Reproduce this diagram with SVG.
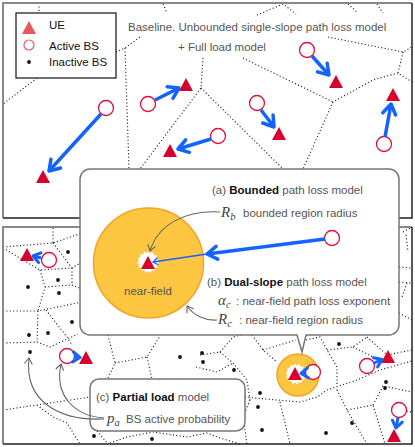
<svg xmlns="http://www.w3.org/2000/svg" width="415" height="447" viewBox="0 0 415 447">
<style>
.vor{fill:none;stroke:#222;stroke-width:1.15;stroke-dasharray:1.1 2.3}
.bs{fill:#fff;stroke:#e0103a;stroke-width:1.3}
.ue{fill:#d8002c}
.dot{fill:#111}
.blue{fill:none;stroke:#1463ff;stroke-width:3.5}
.blues{fill:none;stroke:#1463ff;stroke-width:3}
.thin{fill:none;stroke:#1463ff;stroke-width:1.3}
.gray{fill:none;stroke:#666;stroke-width:1.1}
.t{font-family:"Liberation Sans",Arial,sans-serif;font-size:11.5px;fill:#555}
.b{font-weight:bold;fill:#111}
.lg{font-family:"Liberation Sans",Arial,sans-serif;font-size:11.5px;fill:#111}
.m{font-family:"Liberation Serif","Times New Roman",serif;font-style:italic;font-size:15px;fill:#444}
.sub{font-size:10.5px}
.box{fill:#fff;stroke:#777;stroke-width:1.5}
.orange{fill:#fcc640;stroke:#f3a42a;stroke-width:1.5}
.hole{fill:#fff;stroke:#fff;stroke-width:2;stroke-dasharray:2 2}
</style>
<defs>
<path id="tri" d="M0,-7 L7,6 L-7,6 Z"/>
<marker id="ah" markerUnits="userSpaceOnUse" viewBox="-13 -9 16 18" refX="0" refY="0" markerWidth="16" markerHeight="18" orient="auto"><path d="M-10,-6.5 L0,0 L-10,6.5" fill="none" stroke="#1463ff" stroke-width="3.5" stroke-linecap="round" stroke-linejoin="round"/></marker>
<marker id="ahs" markerUnits="userSpaceOnUse" viewBox="-10 -7 12 14" refX="0" refY="0" markerWidth="12" markerHeight="14" orient="auto"><path d="M-7,-5 L0,0 L-7,5" fill="none" stroke="#1463ff" stroke-width="3" stroke-linecap="round" stroke-linejoin="round"/></marker>
<marker id="aht" markerUnits="userSpaceOnUse" viewBox="-8 -6 10 12" refX="0" refY="0" markerWidth="10" markerHeight="12" orient="auto"><path d="M-5,-3.5 L0,0 L-5,3.5" fill="none" stroke="#1463ff" stroke-width="1.3"/></marker>
<marker id="ahg" markerUnits="userSpaceOnUse" viewBox="-8 -6 10 12" refX="0" refY="0" markerWidth="10" markerHeight="12" orient="auto"><path d="M-6,-4 L0,0 L-6,4" fill="none" stroke="#666" stroke-width="1.1"/></marker>
</defs>

<g id="top-panel">
<rect x="3" y="3" width="409" height="215" fill="#fff"/>
<path class="vor" d="M39,3 L39,13 M37,78 L3,104 M116,52 L125,48 L140,37 M125,48 L129,169 M163,4 L167,13 M257,15 L283,4 L296,14 M348,4 L358,13 M377,4 L383,13 M328,37 L403,52 L412,47 M403,52 L398,73 L412,82 M398,73 L373,80 L333,102 M243,58 L333,102 M333,102 L303,169 M203,58 L201,88 L140,169 M201,88 L283,169"/>
<path d="M3,218 V3 H412" fill="none" stroke="#888" stroke-width="2"/>
<path d="M3,218 H412 V3" fill="none" stroke="#222" stroke-width="1.5"/>
</g>

<g id="title">
<text class="t" x="128" y="31" fill="#666">Baseline. Unbounded single-slope path loss model</text>
<text class="t" x="178" y="51">+ Full load model</text>
</g>

<g id="legend">
<rect x="16" y="13" width="100" height="65" fill="#fff" stroke="#111" stroke-width="1.2"/>
<use href="#tri" x="29" y="28" fill="#e8585a"/>
<circle cx="29" cy="45" r="5" fill="#fff" stroke="#ee5a5e" stroke-width="1.2"/>
<circle cx="29" cy="62" r="1.9" class="dot"/>
<text class="lg" x="49" y="29">UE</text>
<text class="lg" x="49" y="50">Active BS</text>
<text class="lg" x="49" y="66">Inactive BS</text>
</g>

<g id="top-nodes">
<g id="bs1"><circle class="bs" cx="148" cy="104" r="7.5"/></g>
<g id="ue1"><use href="#tri" class="ue" x="186" y="85"/></g>
<g id="bs2"><circle class="bs" cx="106" cy="108" r="7.5"/></g>
<g id="ue2"><use href="#tri" class="ue" x="43" y="177"/></g>
<g id="bs3"><circle class="bs" cx="257" cy="103" r="7.5"/></g>
<g id="ue3"><use href="#tri" class="ue" x="279" y="134"/></g>
<g id="bs4"><circle class="bs" cx="218" cy="136" r="7.5"/></g>
<g id="ue4"><use href="#tri" class="ue" x="170" y="151"/></g>
<g id="bs5"><circle class="bs" cx="307" cy="50" r="7.5"/></g>
<g id="ue5"><use href="#tri" class="ue" x="336" y="82"/></g>
<g id="bs6"><circle class="bs" cx="384" cy="144" r="7.5"/></g>
<g id="ue6"><use href="#tri" class="ue" x="393" y="95"/></g>
</g>

<g id="bottom-panel">
<rect x="3" y="227" width="409" height="217" fill="#fff"/>
<path class="vor" d="M3,247 L53,243 L82,233 M53,228 L53,243 M3,248 L40,270 L72,268 L82,262 M53,243 L72,268 M72,268 L72,285 L82,289 M40,270 L45,287 L38,311 M45,287 L72,285 M3,311 L38,311 L82,302 M38,311 L37,342 M46,310 L67,337 L72,345
M3,343 L37,342 L50,347 L78,334 M3,410 L37,405 L90,397 M37,405 L53,417 L67,423 L80,444 M97,431 L108,444 M110,443 L127,437 L153,432 L187,437 L207,433 L220,438 L240,444
M108,335 L115,363 L107,380 M115,363 L147,357 L160,336 M147,357 L152,379
M200,355 L220,352 L233,337 L250,333 M220,352 L233,363 M196,367 L217,372 L233,363 M233,363 L247,380 L250,400
M252,335 L263,350 L277,362 M263,350 L296,340 M306,340 L320,337 L327,350 L337,367 L337,390 M327,350 L353,347 L367,337 M353,347 L373,357 M367,337 L387,355 L412,350
M245,397 L277,400 L300,402 L317,397 L327,390 L357,380 L380,370 L412,361 M337,390 L347,410 L367,444 M347,410 L373,405 L385,444 M373,405 L383,386 L412,392 M250,400 L243,417 L247,444 M280,402 L285,423 L290,444 M400,410 L412,412
M403,232 L410,228 M406,235 L408,252 M399,267 L412,268 M399,282 L412,283 M407,283 L402,297 M399,313 L412,320"/>
<g id="inactive-bs">
<circle class="dot" cx="68" cy="252" r="1.9"/><circle class="dot" cx="58" cy="280" r="1.9"/><circle class="dot" cx="28" cy="287" r="1.9"/><circle class="dot" cx="59" cy="293" r="1.9"/><circle class="dot" cx="72" cy="322" r="1.9"/><circle class="dot" cx="29" cy="335" r="1.9"/><circle class="dot" cx="48" cy="333" r="1.9"/><circle class="dot" cx="30" cy="352" r="1.9"/><circle class="dot" cx="180" cy="357" r="1.9"/><circle class="dot" cx="202" cy="353" r="1.9"/><circle class="dot" cx="203" cy="362" r="1.9"/><circle class="dot" cx="234" cy="370" r="1.9"/><circle class="dot" cx="260" cy="393" r="1.9"/><circle class="dot" cx="258" cy="407" r="1.9"/><circle class="dot" cx="262" cy="430" r="1.9"/><circle class="dot" cx="339" cy="344" r="1.9"/><circle class="dot" cx="326" cy="433" r="1.9"/><circle class="dot" cx="352" cy="423" r="1.9"/><circle class="dot" cx="386" cy="382" r="1.9"/><circle class="dot" cx="385" cy="388" r="1.9"/><circle class="dot" cx="94" cy="436" r="1.9"/><circle class="dot" cx="152" cy="439" r="1.9"/>
</g>
<path d="M3,444 V227 H412" fill="none" stroke="#888" stroke-width="2"/>
<path d="M3,444 H412 V227" fill="none" stroke="#222" stroke-width="1.5"/>
</g>

<g id="bottom-nodes">
<g id="bs7"><circle class="bs" cx="49" cy="260" r="7.5"/></g>
<g id="ue7"><use href="#tri" class="ue" x="27" y="255"/></g>
<g id="bs8"><circle class="bs" cx="67" cy="356" r="7.5"/></g>
<g id="ue8"><use href="#tri" class="ue" x="86" y="358"/></g>
<g id="nearfield-small">
<circle class="orange" cx="298" cy="375" r="21"/>
<circle class="hole" cx="296" cy="374" r="9"/>
</g>
<g id="ue9"><use href="#tri" class="ue" x="295" y="374"/></g>
<g id="bs9"><circle class="bs" cx="313" cy="372" r="7.5"/></g>
<g id="bs10"><circle class="bs" cx="367" cy="366" r="7.5"/></g>
<g id="ue10"><use href="#tri" class="ue" x="388" y="357"/></g>
<g id="bs11"><circle class="bs" cx="399" cy="410" r="7.5"/></g>
<g id="ue11"><use href="#tri" class="ue" x="394" y="436"/></g>
</g>

<g id="callout">
<path class="box" d="M90,169 H389 A10,10 0 0 1 399,179 V325 A10,10 0 0 1 389,335 H306 L302,352 L297,335 H90 A10,10 0 0 1 80,325 V179 A10,10 0 0 1 90,169 Z"/>
<circle class="orange" cx="148.5" cy="263" r="55"/>
<circle class="hole" cx="148" cy="262" r="9.5"/>
<text class="t" x="148" y="295" text-anchor="middle" fill="#333">near-field</text>
<text class="t" x="212" y="194">(a) <tspan class="b">Bounded</tspan> path loss model</text>
<text class="m" x="221" y="217">R<tspan class="sub" dy="3">b</tspan></text>
<text class="t" x="243" y="217">bounded region radius</text>
<text class="t" x="207" y="286">(b) <tspan class="b">Dual-slope</tspan> path loss model</text>
<text class="m" x="218" y="305">α<tspan class="sub" dy="3">c</tspan></text>
<text class="t" x="236" y="305">: near-field path loss exponent</text>
<text class="m" x="218" y="324">R<tspan class="sub" dy="3">c</tspan></text>
<text class="t" x="239" y="324">: near-field region radius</text>
</g>
<g id="ue-center"><use href="#tri" class="ue" x="148" y="263"/></g>
<g id="bs-callout"><circle class="bs" cx="332" cy="238" r="7.5"/></g>

<g id="partial-load">
<rect class="box" x="90" y="379" width="155" height="52" rx="9"/>
<text class="t" x="96" y="401">(c) <tspan class="b">Partial load</tspan> model</text>
<text class="m" x="107" y="423">p<tspan class="sub" dy="3">a</tspan></text>
<text class="t" x="126" y="423">BS active probability</text>
</g>

<g id="connectors">
<path class="blue" marker-end="url(#ah)" d="M155,100 L179,88"/>
<path class="blue" marker-end="url(#ah)" d="M101,114 L49,171"/>
<path class="blue" marker-end="url(#ah)" d="M261,110 L274,127"/>
<path class="blue" marker-end="url(#ah)" d="M211,139 L178,149"/>
<path class="blue" marker-end="url(#ah)" d="M312,56 L329,75"/>
<path class="blue" marker-end="url(#ah)" d="M385,137 L391,104"/>
<path class="blue" marker-end="url(#ah)" d="M325,239 L207,254"/>
<path class="thin" marker-end="url(#aht)" d="M207,254 L153,262"/>
<path class="blues" marker-end="url(#ahs)" d="M41,258 L33,256"/>
<path class="blues" marker-end="url(#ahs)" d="M74,357 L80,357.5"/>
<path class="blues" marker-end="url(#ahs)" d="M306,373 L301,373.5"/>
<path class="blues" marker-end="url(#ahs)" d="M374,363 L382,359.5"/>
<path class="blues" marker-end="url(#ahs)" d="M398,417.5 L396,428"/>
<path class="gray" marker-end="url(#ahg)" d="M220,212 C186,210 158,224 150,251"/>
<path class="gray" marker-end="url(#ahg)" d="M217,320 C205,321 193,315 187,306"/>
<path class="gray" marker-end="url(#ahg)" d="M104,419 C60,421 24,402 29,358"/>
<path class="gray" marker-end="url(#ahg)" d="M104,418 C75,416 54,396 61,364"/>
</g>
</svg>
